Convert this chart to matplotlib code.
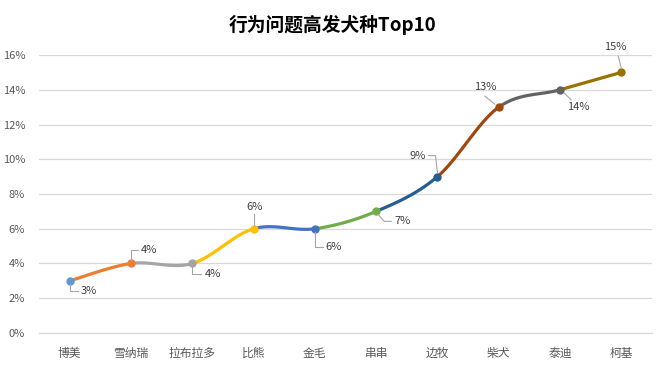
import numpy as np
import matplotlib
matplotlib.use("Agg")
import matplotlib.pyplot as plt

plt.rcParams['font.family'] = ['Noto Sans CJK SC', 'DejaVu Sans']

breeds = ['博美', '雪纳瑞', '拉布拉多', '比熊', '金毛', '串串', '边牧', '柴犬', '泰迪', '柯基']
share = [3, 4, 4, 6, 6, 7, 9, 13, 14, 15]
labels = ['3%', '4%', '4%', '6%', '6%', '7%', '9%', '13%', '14%', '15%']
yticks = [0, 2, 4, 6, 8, 10, 12, 14, 16]

# one colour per point, the segment leading into a point uses its colour
colors = ['#5B9BD5', '#ED7D31', '#A5A5A5', '#FFC000', '#4472C4',
          '#70AD47', '#255E91', '#9E480E', '#636363', '#997300']

# label placement: text offset (px, image y down), alignment, leader vertices
label_pos = [
    ((11, 10), 'left', [(0, 3), (0, 10), (8, 10)]),
    ((10, -13), 'left', [(0, -3), (0, -13), (7, -13)]),
    ((13, 11), 'left', [(0, 3), (0, 11), (9, 11)]),
    ((1, -22), 'center', [(0, -4), (0, -15)]),
    ((11, 18), 'left', [(0, 3), (0, 18), (8, 18)]),
    ((18, 10), 'left', [(2, 3), (8, 10), (15, 10)]),
    ((-12, -21), 'right', [(-9, -21), (-2, -21), (0, -4)]),
    ((-14, -20), 'center', [(-4, -3), (-14, -11)]),
    ((18, 17), 'center', [(4, 3), (11, 10)]),
    ((-6, -25), 'center', [(0, -4), (-3, -16)]),
]

fig = plt.figure(figsize=(6.66, 3.65), dpi=100)
ax = fig.add_axes([0.0586, 0.0877, 0.9204, 0.7616])

x = np.arange(len(breeds))
y = np.array(share, dtype=float)

# smooth curve, catmull-rom style bezier like excel's smoothed line
def bezier_segment(i):
    p0 = np.array([x[max(i - 1, 0)], y[max(i - 1, 0)]])
    p1 = np.array([x[i], y[i]])
    p2 = np.array([x[i + 1], y[i + 1]])
    p3 = np.array([x[min(i + 2, len(x) - 1)], y[min(i + 2, len(x) - 1)]])
    c1 = p1 + (p2 - p0) / 6
    c2 = p2 - (p3 - p1) / 6
    t = np.linspace(0, 1, 40)[:, None]
    pts = (1 - t) ** 3 * p1 + 3 * (1 - t) ** 2 * t * c1 + 3 * (1 - t) * t ** 2 * c2 + t ** 3 * p2
    return pts

for i in range(len(x) - 1):
    seg = bezier_segment(i)
    ax.plot(seg[:, 0], seg[:, 1], color=colors[i + 1], lw=2.3,
            solid_capstyle='round', zorder=3)

for i in range(len(x)):
    ax.plot(x[i], y[i], 'o', ms=5, color=colors[i], zorder=4)

ax.set_xlim(-0.5, len(breeds) - 0.5)
ax.set_ylim(0, 16)
ax.set_yticks(yticks)
ax.set_yticklabels([f'{v}%' for v in yticks])
ax.set_xticks(x)
ax.set_xticklabels(breeds)
ax.grid(axis='y', color='#D9D9D9', lw=0.9)
ax.axhline(0, color='#D9D9D9', lw=0.9, clip_on=False, zorder=0.5)
ax.set_axisbelow(True)
for s in ax.spines.values():
    s.set_visible(False)
ax.tick_params(length=0, colors='#595959', labelsize=8)
ax.tick_params(axis='x', labelsize=8.5, pad=10)
ax.tick_params(axis='y', pad=10)

fig.suptitle('行为问题高发犬种Top10', y=0.96, fontsize=13.5,
             fontweight='bold', color='#000000')

fig.canvas.draw()
for i in range(len(x)):
    px, py = ax.transData.transform((x[i], y[i]))
    (tx, ty), ha, leader = label_pos[i]
    lx = [px + dx for dx, dy in leader]
    ly = [py - dy for dx, dy in leader]
    fig.add_artist(plt.Line2D(lx, ly, transform=None, color='#A6A6A6', lw=0.8))
    fig.text(px + tx, py - ty, labels[i], transform=None, ha=ha, va='center',
             fontsize=8, color='#404040')

fig.savefig('out.png', dpi=100)
